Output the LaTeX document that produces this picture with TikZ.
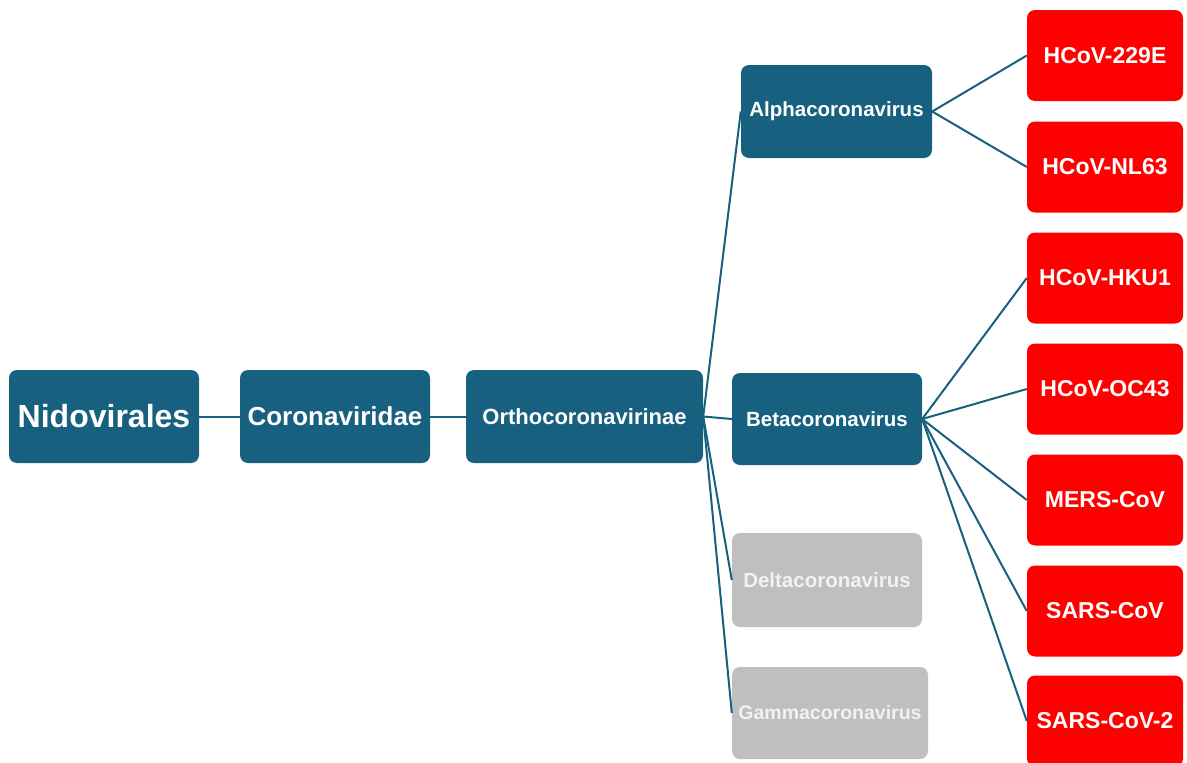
\documentclass[tikz,border=0pt]{standalone}
\usepackage{fontspec}
\setmainfont{Liberation Sans}
\usetikzlibrary{positioning}
\definecolor{taxblue}{HTML}{17607F}
\definecolor{taxgray}{HTML}{BFBFBF}
\definecolor{taxred}{HTML}{FF0000}
\begin{document}
\begin{tikzpicture}
[x=1pt, y=-1pt, box/.style={rounded corners=8pt, inner sep=0pt, text=white, font=\bfseries, minimum height=92pt}, rank box/.style={box, fill=taxblue}, genus box/.style={box, fill=taxblue, minimum width=190pt, font=\bfseries\fontsize{20.5}{24}\selectfont}, faded box/.style={genus box, fill=taxgray, text=white!95!black}, virus box/.style={box, fill=taxred, minimum width=156pt, minimum height=91pt, font=\bfseries\fontsize{23}{27}\selectfont}, branch/.style={draw=taxblue, line width=2pt}]
    \useasboundingbox (0,0) rectangle (1187,763);
    \node[rank box, minimum width=190pt, minimum height=93pt, font=\bfseries\fontsize{32}{36}\selectfont] (nido) at (104,416.5) {Nidovirales};
    \node[rank box, minimum width=190pt, minimum height=93pt, font=\bfseries\fontsize{26}{30}\selectfont] (corid) at (335,416.5) {Coronaviridae};
    \node[rank box, minimum width=237pt, minimum height=93pt, font=\bfseries\fontsize{22}{26}\selectfont] (ortho) at (584.5,416.5) {Orthocoronavirinae};
    \node[genus box, minimum width=191pt, minimum height=93pt] (alpha) at (836.5,111.5) {Alphacoronavirus};
    \node[genus box] (beta) at (827,419) {Betacoronavirus};
    \node[faded box, minimum height=94pt] (delta) at (827,580) {Deltacoronavirus};
    \node[faded box, minimum width=196pt, minimum height=92pt, font=\bfseries\fontsize{19.5}{23}\selectfont] (gamma) at (830,713) {Gammacoronavirus};
    \node[virus box] (v229e) at (1105,55.5) {HCoV-229E};
    \node[virus box] (nl63) at (1105,167) {HCoV-NL63};
    \node[virus box] (hku1) at (1105,278) {HCoV-HKU1};
    \node[virus box] (oc43) at (1105,389) {HCoV-OC43};
    \node[virus box] (mers) at (1105,500) {MERS-CoV};
    \node[virus box] (sars) at (1105,611) {SARS-CoV};
    \node[virus box] (sars2) at (1105,721) {SARS-CoV-2};
    \draw[branch] (nido) -- (corid);
    \draw[branch] (corid) -- (ortho);
    \foreach \g in {alpha, beta, delta, gamma}
        \draw[branch] (ortho.east) -- (\g.west);
    \foreach \v in {v229e, nl63}
        \draw[branch] (alpha.east) -- (\v.west);
    \foreach \v in {hku1, oc43, mers, sars, sars2}
        \draw[branch] (beta.east) -- (\v.west);
\end{tikzpicture}
\end{document}
